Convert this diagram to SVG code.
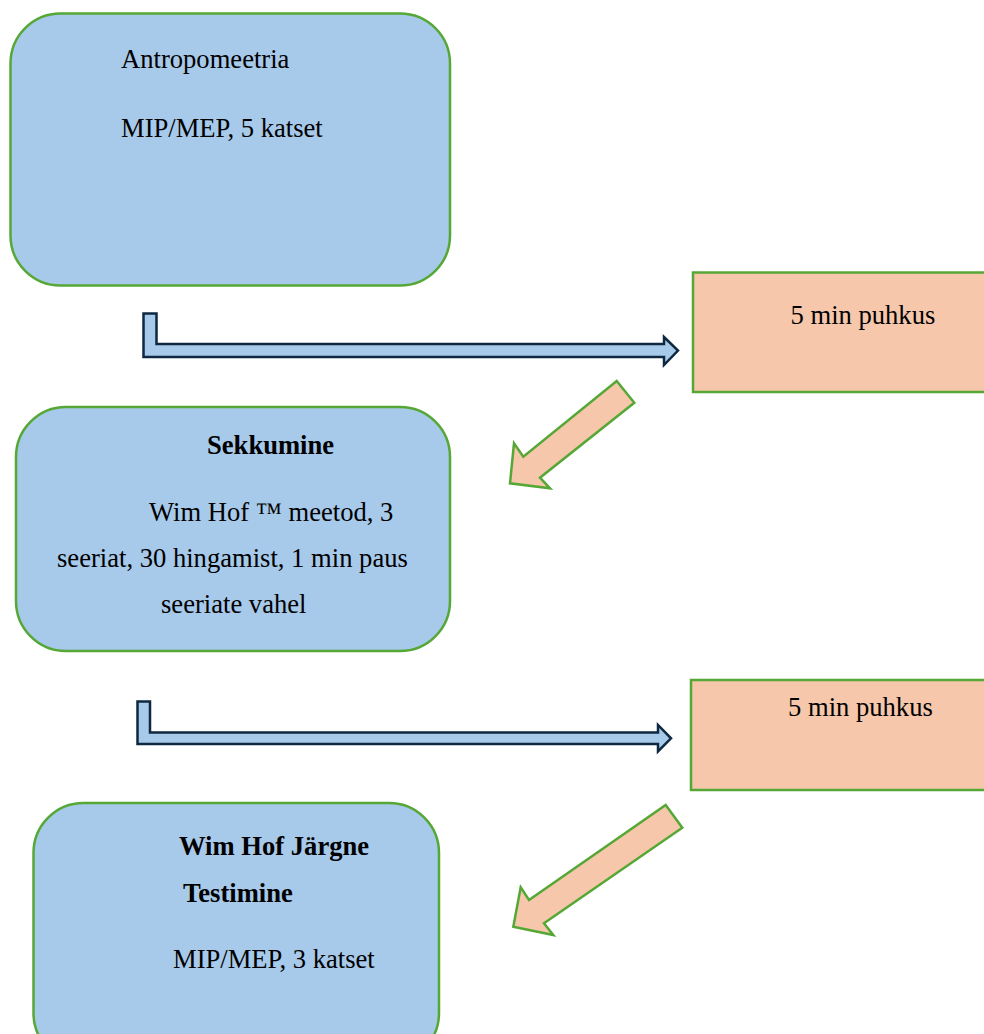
<svg xmlns="http://www.w3.org/2000/svg" width="984" height="1034" viewBox="0 0 984 1034">
<style>
.box{fill:#a7c9ea;stroke:#56a836;stroke-width:2.5}
.rest{fill:#f6c7ab;stroke:#56a836;stroke-width:2.5}
.bent{fill:#a7c9ea;stroke:#0e2841;stroke-width:2.5;stroke-linejoin:miter}
.diag{fill:#f6c7ab;stroke:#56a836;stroke-width:2.5;stroke-linejoin:miter}
text{font-family:"Liberation Serif","Times New Roman",serif;font-size:26.6px;fill:#000}
.b{font-weight:bold}
</style>
<rect width="984" height="1034" fill="#ffffff"/>
<g id="connectors">
<polygon class="bent" points="143.5,313.5 156.5,313.5 156.5,344 664,344 664,337 678,350.5 664,365 664,357 143.5,357"/>
<polygon class="diag" points="616.7,381 634.3,402.7 540,477.7 550,488.3 510,483.3 514,443.3 523.3,456.7"/>
<polygon class="bent" points="137.5,701.5 150,701.5 150,732.5 658,732.5 658,725 671,738.3 658,751.5 658,744 137.5,744"/>
<polygon class="diag" points="665.7,805 682.3,827.7 544,923.3 553.3,935 513.3,926.7 520.7,887.3 529,900"/>
</g>
<g id="node-antropomeetria">
<rect class="box" x="10.5" y="13.5" width="439.5" height="272" rx="50" ry="50"/>
<text x="121" y="68">Antropomeetria</text>
<text x="121" y="137">MIP/MEP, 5 katset</text>
</g>
<g id="node-puhkus1">
<rect class="rest" x="693" y="272.5" width="310" height="119.5"/>
<text x="790.5" y="324">5 min puhkus</text>
</g>
<g id="node-sekkumine">
<rect class="box" x="16" y="407" width="434" height="244" rx="50" ry="50"/>
<text class="b" x="207" y="454">Sekkumine</text>
<text x="149" y="521">Wim Hof ™ meetod, 3</text>
<text x="57" y="567">seeriat, 30 hingamist, 1 min paus</text>
<text x="161" y="613">seeriate vahel</text>
</g>
<g id="node-puhkus2">
<rect class="rest" x="691" y="680" width="310" height="110"/>
<text x="788" y="716">5 min puhkus</text>
</g>
<g id="node-jargne">
<rect class="box" x="33.5" y="803" width="405.5" height="260" rx="50" ry="50"/>
<text class="b" x="179" y="855">Wim Hof Järgne</text>
<text class="b" x="183" y="902">Testimine</text>
<text x="173" y="968">MIP/MEP, 3 katset</text>
</g>
</svg>
